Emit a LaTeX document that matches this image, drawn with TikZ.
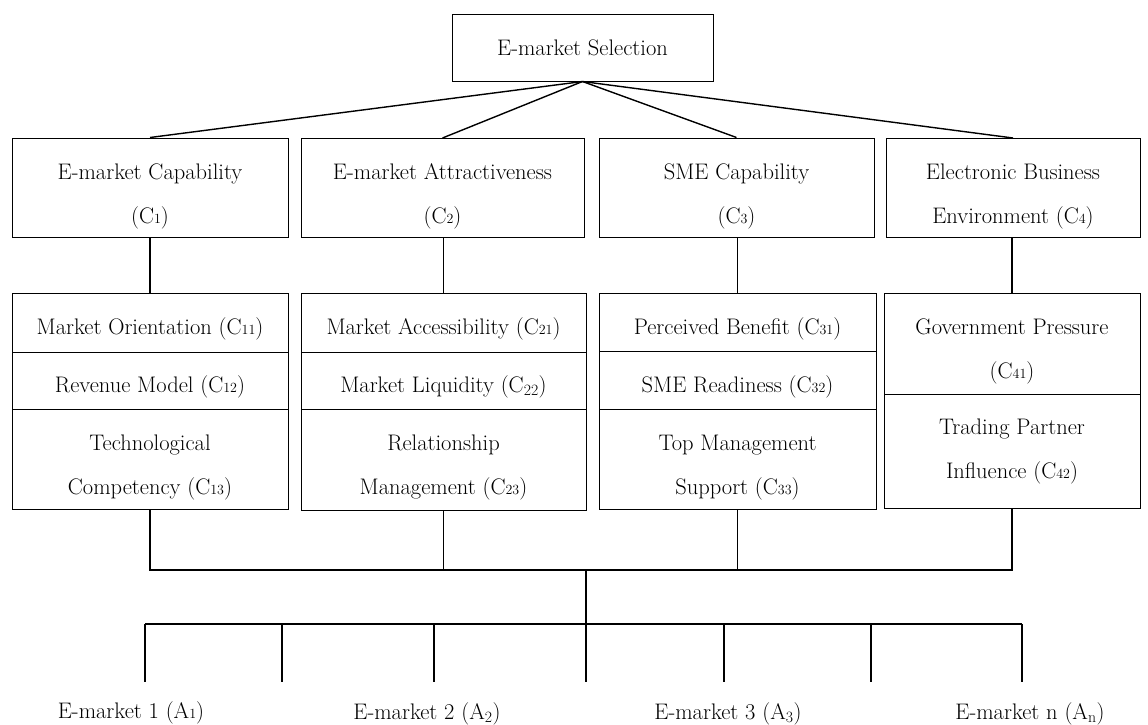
\documentclass[tikz,border=0pt]{standalone}
\usepackage{tikz}
\newcommand{\idx}[1]{{\fontsize{14}{14}\selectfont #1}}

\begin{document}
\begin{tikzpicture}[x=1pt, y=-1pt,
  box/.style={draw, line width=1pt, inner sep=0pt, align=center, font=\fontsize{22.5}{44}\selectfont,
    execute at begin node={\rule{0pt}{#1}}},
  box/.default=30pt,
  link/.style={line width=1.4pt},
  lbl/.style={inner sep=0pt, font=\fontsize{22.5}{24}\selectfont}]
  \useasboundingbox (0,0) rectangle (1148,724);

  % goal
  \node[box=0pt, minimum width=261pt, minimum height=67pt] (sel) at (582.5,47.5) {E-market Selection};

  % criteria
  \node[box=77pt, minimum width=276pt, minimum height=99pt] (c1) at (150,187.5) {E-market Capability\\(C\idx{1})};
  \node[box=77pt, minimum width=283pt, minimum height=99pt] (c2) at (442.5,188) {E-market Attractiveness\\(C\idx{2})};
  \node[box=77pt, minimum width=275pt, minimum height=99pt] (c3) at (736.5,187.5) {SME Capability\\(C\idx{3})};
  \node[box=77pt, minimum width=254pt, minimum height=99pt] (c4) at (1013,188) {Electronic Business\\Environment (C\idx{4})};

  % sub-criteria
  \node[box, minimum width=276pt, minimum height=59pt] (c11) at (150,322.5) {Market Orientation (C\idx{11})};
  \node[box, minimum width=276pt, minimum height=57pt] (c12) at (150,380.5) {Revenue Model (C\idx{12})};
  \node[box=76pt, minimum width=276pt, minimum height=100pt] (c13) at (150,459) {Technological\\Competency (C\idx{13})};

  \node[box, minimum width=285pt, minimum height=59pt] (c21) at (443.5,322.5) {Market Accessibility (C\idx{21})};
  \node[box, minimum width=285pt, minimum height=57pt] (c22) at (443.5,380.5) {Market Liquidity (C\textsubscript{22})};
  \node[box=76pt, minimum width=285pt, minimum height=101pt] (c23) at (443.5,459.5) {Relationship\\Management (C\idx{23})};

  \node[box, minimum width=277pt, minimum height=58pt] (c31) at (737.5,322) {Perceived Benefit (C\idx{31})};
  \node[box, minimum width=277pt, minimum height=58pt] (c32) at (737.5,380) {SME Readiness (C\idx{32})};
  \node[box=76pt, minimum width=277pt, minimum height=100pt] (c33) at (737.5,459) {Top Management\\Support (C\idx{33})};

  \node[box=75pt, minimum width=256pt, minimum height=101pt] (c41) at (1012,343.5) {Government Pressure\\(C\idx{41})};
  \node[box=0pt, minimum width=256pt, minimum height=114pt] (c42) at (1012,451) {Trading Partner\\Influence (C\idx{42})};

  % alternatives
  \node[lbl] (a1) at (131,713) {E-market 1 (A\idx{1})};
  \node[lbl] (a2) at (427,714) {E-market 2 (A\textsubscript{2})};
  \node[lbl] (a3) at (728,714) {E-market 3 (A\textsubscript{3})};
  \node[lbl] (an) at (1030,714) {E-market n (A\textsubscript{n})};

  \coordinate (hub) at (586,570);
  \coordinate (fan) at (586,624);
  \foreach \x [count=\i] in {145,282,434,586,724,871,1022}
    \coordinate (t\i) at (\x,682);

  % connectors
  \foreach \c in {c1,c2,c3,c4}
    \draw[link] (sel.south) -- (\c.north);
  \foreach \c in {c1,c2,c3,c4}
    \draw[link] (\c1.north) -- (\c1.north |- \c.south);

  \draw[link] (c13.south) |- (hub) -| (c42.south);
  \draw[link] (c23.south) -- (c23.south |- hub);
  \draw[link] (c33.south) -- (c33.south |- hub);
  \draw[link] (hub) -- (t4);
  \draw[link] (t1 |- fan) -- (t7 |- fan);
  \foreach \i in {1,2,3,5,6,7}
    \draw[link] (t\i |- fan) -- (t\i);
\end{tikzpicture}
\end{document}
